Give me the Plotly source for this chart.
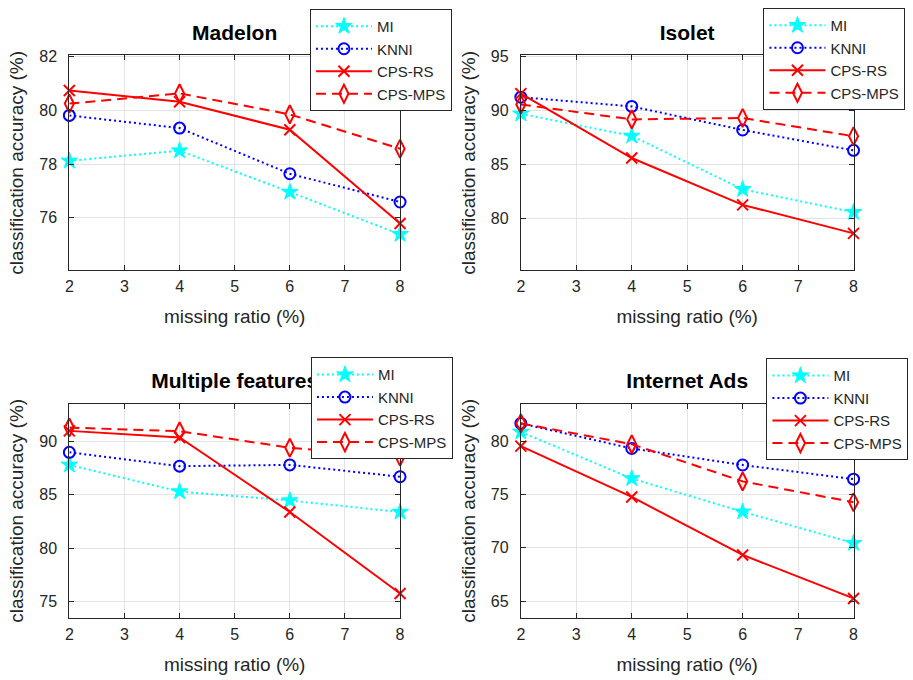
import plotly.graph_objects as go

# Missing ratio (%) on the x axis
missing_ratio = [2, 4, 6, 8]

# Classification accuracy (%) per dataset and method
madelon_mi = [78.12, 78.50, 76.96, 75.39]
madelon_knni = [79.81, 79.34, 77.64, 76.59]
madelon_cps_rs = [80.74, 80.32, 79.28, 75.79]
madelon_cps_mps = [80.25, 80.63, 79.85, 78.57]

isolet_mi = [89.70, 87.65, 82.70, 80.58]
isolet_knni = [91.24, 90.38, 88.20, 86.31]
isolet_cps_rs = [91.57, 85.60, 81.26, 78.62]
isolet_cps_mps = [90.56, 89.18, 89.31, 87.62]

mfeat_mi = [87.80, 85.30, 84.46, 83.38]
mfeat_knni = [88.98, 87.68, 87.80, 86.69]
mfeat_cps_rs = [90.99, 90.37, 83.38, 75.74]
mfeat_cps_mps = [91.30, 90.96, 89.41, 88.58]

ads_mi = [80.87, 76.50, 73.38, 70.44]
ads_knni = [81.67, 79.32, 77.77, 76.44]
ads_cps_rs = [79.54, 74.77, 69.33, 65.25]
ads_cps_mps = [81.67, 79.72, 76.23, 74.28]

titles = ["Madelon", "Isolet", "Multiple features", "Internet Ads"]
y_ticks = [[76, 78, 80, 82], [80, 85, 90, 95], [75, 80, 85, 90], [65, 70, 75, 80]]
y_ranges = [[74.05, 82.04], [75.2, 95.1], [73.45, 93.55], [63.42, 83.53]]
x_ticks = [2, 3, 4, 5, 6, 7, 8]

datasets = [
    (madelon_mi, madelon_knni, madelon_cps_rs, madelon_cps_mps),
    (isolet_mi, isolet_knni, isolet_cps_rs, isolet_cps_mps),
    (mfeat_mi, mfeat_knni, mfeat_cps_rs, mfeat_cps_mps),
    (ads_mi, ads_knni, ads_cps_rs, ads_cps_mps),
]

method_names = ["MI", "KNNI", "CPS-RS", "CPS-MPS"]
styles = [
    dict(line=dict(color="#00FFFF", width=2, dash="2px,3px"),
         marker=dict(symbol="star", size=12.5, color="#00FFFF",
                     line=dict(color="#00FFFF", width=1))),
    dict(line=dict(color="#0000FF", width=2, dash="2px,3px"),
         marker=dict(symbol="circle-open", size=11, color="#0000FF",
                     line=dict(color="#0000FF", width=2))),
    dict(line=dict(color="#FF0000", width=2),
         marker=dict(symbol="x-thin-open", size=11, color="#FF0000",
                     line=dict(color="#FF0000", width=2))),
    dict(line=dict(color="#FF0000", width=2, dash="10px,6px"),
         marker=dict(symbol="diamond-tall-open", size=13, color="#FF0000",
                     line=dict(color="#FF0000", width=2))),
]

W, H = 913, 680
x_domains = [[66 / W, 400 / W], [522 / W, 858 / W]]
y_domains = [[1 - 266 / H, 1 - 49 / H], [1 - 617.3 / H, 1 - 400.7 / H]]
legend_pos = [(309 / W, 1 - 2 / H), (767 / W, 1 - 1 / H),
              (310 / W, 1 - 354 / H), (770 / W, 1 - 355 / H)]
TITLE_BAND = 50 / H

FONT = "Liberation Sans, Arial, Helvetica, sans-serif"

fig = go.Figure()
layout = dict(
    width=W, height=H, autosize=False,
    margin=dict(l=0, r=0, t=0, b=0),
    paper_bgcolor="white", plot_bgcolor="white",
    font=dict(family=FONT, color="#262626", size=15),
    shapes=[],
)

for i, (series, title) in enumerate(zip(datasets, titles)):
    row, col = divmod(i, 2)
    ax = "" if i == 0 else str(i + 1)
    leg = "legend" if i == 0 else f"legend{i + 1}"
    for name, vals, st in zip(method_names, series, styles):
        fig.add_trace(go.Scatter(
            x=missing_ratio, y=vals, name=name, mode="lines+markers",
            xaxis="x" + ax, yaxis="y" + ax, legend=leg, cliponaxis=False,
            line=st["line"], marker=st["marker"],
        ))
    axis_common = dict(
        showline=True, linecolor="#262626", linewidth=1, mirror="ticks",
        ticks="inside", ticklen=5, tickcolor="#262626", tickwidth=1,
        showgrid=True, gridcolor="#e3e3e3", gridwidth=1, zeroline=False,
        tickfont=dict(family=FONT, size=16, color="#262626"),
    )
    layout["xaxis" + ax] = dict(
        axis_common, domain=x_domains[col], range=[2, 8], tickvals=x_ticks,
        anchor="y" + ax, ticklabelstandoff=2,
        title=dict(text="missing ratio (%)", standoff=15,
                   font=dict(family=FONT, size=19, color="#262626")),
    )
    layout["yaxis" + ax] = dict(
        axis_common, domain=y_domains[row], range=y_ranges[i], tickvals=y_ticks[i],
        anchor="x" + ax, ticklabelstandoff=8,
        title=dict(text="classification accuracy (%)", standoff=10,
                   font=dict(family=FONT, size=19, color="#262626")),
    )
    # Panel title as a shape label so the legend box sits above it
    top = y_domains[row][1]
    layout["shapes"].append(dict(
        type="rect", xref="paper", yref="paper", layer="above",
        x0=x_domains[col][0], x1=x_domains[col][1], y0=top, y1=top + TITLE_BAND,
        line=dict(width=0), fillcolor="rgba(0,0,0,0)",
        label=dict(text=title, textposition="middle center",
                   font=dict(family=FONT, size=21, color="black", weight="bold")),
    ))
    lx, ly = legend_pos[i]
    layout[leg] = dict(
        x=lx, y=ly, xanchor="left", yanchor="top", xref="paper", yref="paper",
        bgcolor="white", bordercolor="#262626", borderwidth=1,
        font=dict(family=FONT, size=15, color="#262626"),
        itemwidth=56, tracegroupgap=0,
    )

fig.update_layout(**layout)
fig.write_html("out.html")
